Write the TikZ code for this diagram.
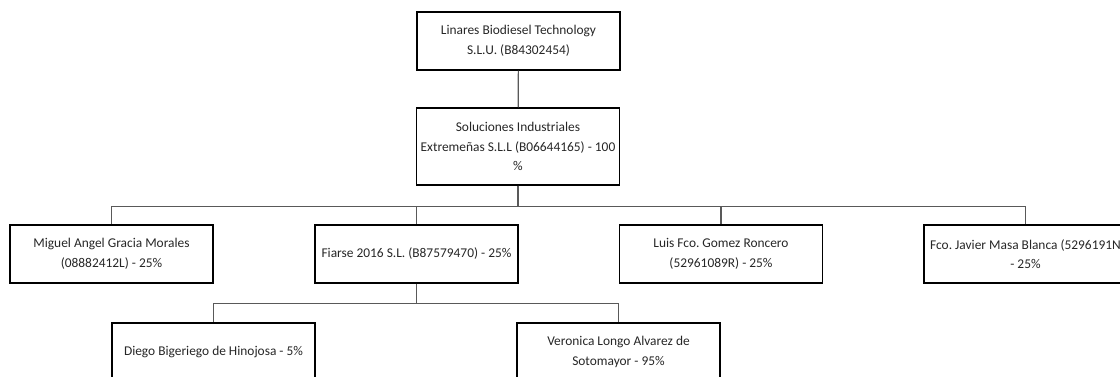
\documentclass[tikz,border=0pt]{standalone}
\usepackage{fontspec}
\setmainfont{Carlito}
\usepackage{tikz}
\frenchspacing

\begin{document}
\begin{tikzpicture}[x=1pt, y=-1pt,
  entity/.style={draw, line width=1.5pt, minimum width=203pt, minimum height=58pt,
    align=center, inner sep=0pt, text=black!85, font=\fontsize{13.4}{19.5}\selectfont},
  link/.style={draw=black!65, line width=1.2pt}]
  \useasboundingbox (0,0) rectangle (1120,377);
  % top of the chart
  \node[entity] (linares) at (518.5,41) {Linares Biodiesel Technology\\S.L.U. (B84302454)};
  \node[entity, minimum height=77pt] (soluciones) at (518,146.5)
    {Soluciones Industriales\\Extremeñas S.L.L (B06644165) - 100\\\%};
  % partners
  \node[entity] (miguel) at (111.5,254) {Miguel Angel Gracia Morales\\(08882412L) - 25\%};
  \node[entity] (fiarse) at (416.5,254) {Fiarse 2016 S.L. (B87579470) - 25\%};
  \node[entity] (luis) at (721,254) {Luis Fco. Gomez Roncero\\(52961089R) - 25\%};
  \node[entity] (fco) at (1025.5,254) {Fco. Javier Masa Blanca (5296191N\\- 25\%};
  % owners of Fiarse
  \node[entity] (diego) at (213.5,352) {Diego Bigeriego de Hinojosa - 5\%};
  \node[entity] (veronica) at (618.5,352) {Veronica Longo Alvarez de\\Sotomayor - 95\%};

  \draw[link] (linares) -- (soluciones);
  \foreach \kid in {miguel,fiarse,luis,fco}
    \draw[link] (soluciones.south) -- ++(0,21) -| (\kid.north);
  \foreach \kid in {diego,veronica}
    \draw[link] (fiarse.south) -- ++(0,20) -| (\kid.north);
\end{tikzpicture}
\end{document}
